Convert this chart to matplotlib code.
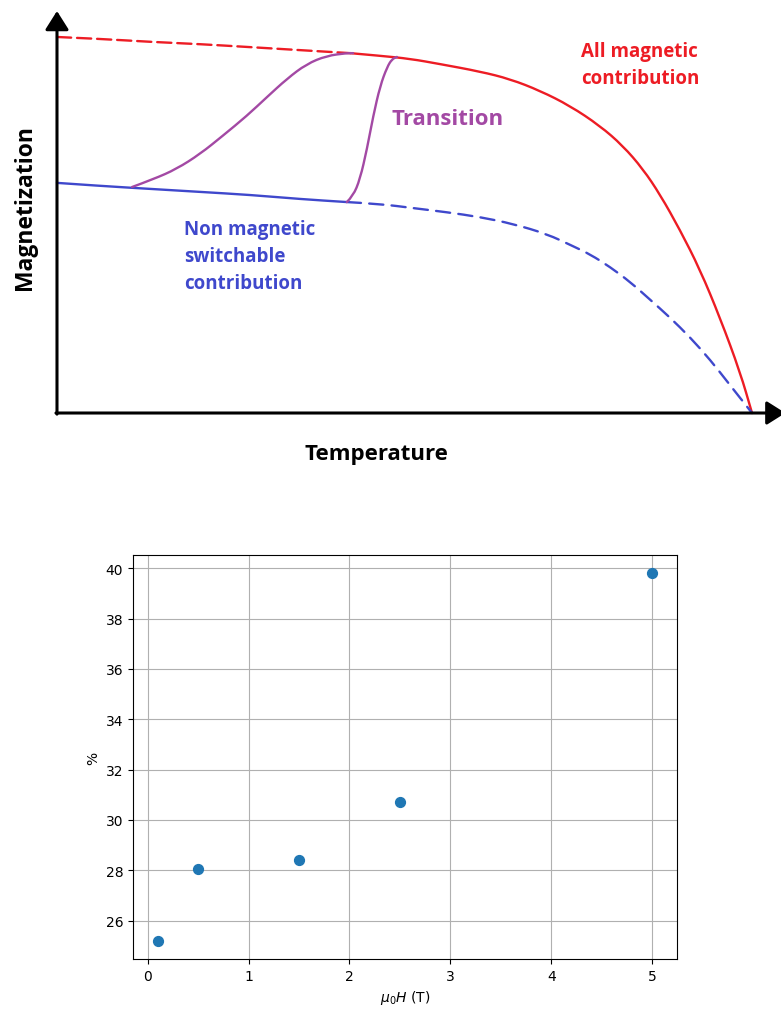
import matplotlib.pyplot as plt
from matplotlib.path import Path
from matplotlib.patches import PathPatch

# schematic curves (temperature and magnetization in arbitrary units 0..100)
red_dash_t = [0, 6.2, 13.4, 20.6, 27.8, 35.0, 42.2]
red_dash_m = [100.0, 99.5, 98.7, 98.1, 97.3, 96.5, 95.7]
red_t = [42.2, 46.5, 50.8, 55.1, 60.9, 65.2, 69.5, 73.8, 78.1, 81.4, 84.3,
         86.8, 89.6, 92.5, 95.4, 98.3, 100]
red_m = [95.7, 95.0, 94.2, 92.8, 90.8, 88.8, 85.7, 81.7, 76.4, 71.1, 64.9,
         58.0, 48.8, 38.2, 25.3, 10.8, 0]

blue_t = [0, 6.2, 13.4, 20.6, 27.8, 35.0, 41.7]
blue_m = [61.2, 60.4, 59.6, 58.8, 58.0, 56.9, 56.1]
blue_dash_t = [41.7, 46.5, 51.2, 56.1, 60.9, 65.6, 70.5, 74.2, 76.7, 79.6,
               82.5, 85.3, 88.2, 91.1, 94.0, 96.8, 100]
blue_dash_m = [56.1, 55.6, 54.5, 53.4, 52.1, 50.3, 47.6, 44.4, 42.2, 38.8,
               34.8, 30.2, 25.4, 20.1, 14.1, 7.5, 0]

trans1_t = [10.8, 13.9, 17.2, 20.6, 23.9, 27.3, 30.2, 33.1, 35.9, 38.8, 41.7,
            42.6]
trans1_m = [60.1, 62.2, 64.9, 68.9, 73.8, 79.0, 84.0, 88.9, 92.8, 95.0, 95.7,
            95.7]
trans2_t = [41.7, 42.6, 43.6, 44.6, 45.5, 46.5, 47.5, 48.2, 48.9]
trans2_m = [56.1, 57.7, 62.2, 70.2, 79.0, 87.0, 92.0, 94.1, 94.7]

# measured fraction vs field
field = [0.1, 0.5, 1.5, 2.5, 5.0]
percent = [25.2, 28.05, 28.4, 30.7, 39.8]

RED = '#ED1C24'
BLUE = '#3F48CC'
PURPLE = '#A349A4'
FONT = 'Open Sans'


def curve(ax, t, m, color, dashes=None, lw=1.7):
    # quadratic bezier chain through the read points, drawn by matplotlib
    verts = [(t[0], m[0])]
    codes = [Path.MOVETO]
    for i in range(1, len(t) - 1):
        verts.append((t[i], m[i]))
        verts.append(((t[i] + t[i + 1]) / 2, (m[i] + m[i + 1]) / 2))
        codes += [Path.CURVE3, Path.CURVE3]
    verts.append((t[-1], m[-1]))
    codes.append(Path.LINETO)
    ls = '-' if dashes is None else (0, dashes)
    p = PathPatch(Path(verts, codes), fill=False, edgecolor=color, lw=lw,
                  linestyle=ls, capstyle='round', joinstyle='round')
    ax.add_patch(p)


fig = plt.figure(figsize=(7.81, 10.12), dpi=100)

# ---- top schematic ----
ax = fig.add_axes([0, 1 - 480 / 1012, 1, 480 / 1012])
ax.set_xlim(-8.2, 104.17)
ax.set_ylim(-17.55, 110.1)
ax.axis('off')

curve(ax, red_dash_t, red_dash_m, RED, dashes=(6, 2.5))
curve(ax, red_t, red_m, RED)
curve(ax, blue_t, blue_m, BLUE)
curve(ax, blue_dash_t, blue_dash_m, BLUE, dashes=(6, 3.5))
curve(ax, trans1_t, trans1_m, PURPLE)
curve(ax, trans2_t, trans2_m, PURPLE)

arr = dict(arrowstyle='-|>,head_length=0.95,head_width=0.6', lw=2.2,
           color='black', shrinkA=0, shrinkB=0, mutation_scale=12)
ax.annotate('', xy=(0, 106.9), xytext=(0, -0.3), arrowprops=arr)
ax.annotate('', xy=(104.8, 0), xytext=(-0.15, 0), arrowprops=arr,
            annotation_clip=False)

ax.text(48.2, 78.2, 'Transition', color=PURPLE, fontsize=16,
        fontweight='bold', family=FONT, ha='left', va='center')
ax.text(75.4, 92.6, 'All magnetic\ncontribution', color=RED, fontsize=13.5,
        fontweight='bold', family=FONT, ha='left', va='center',
        linespacing=1.45)
ax.text(18.3, 41.8, 'Non magnetic\nswitchable\ncontribution', color=BLUE,
        fontsize=13.5, fontweight='bold', family=FONT, ha='left',
        va='center', linespacing=1.45)
ax.text(-4.6, 54.8, 'Magnetization', color='black', fontsize=16.5,
        fontweight='bold', family=FONT, rotation=90, ha='center',
        va='center')
ax.text(45.9, -10.9, 'Temperature', color='black', fontsize=16,
        fontweight='bold', family=FONT, ha='center', va='center')

# ---- bottom scatter ----
ax2 = fig.add_axes([133 / 781, 52 / 1012, 544 / 781, 404 / 1012])
ax2.scatter(field, percent, s=50, color='C0')
ax2.grid(True)
ax2.set_axisbelow(True)
ax2.set_xlabel(r'$\mu_0H$ (T)')
ax2.set_ylabel('%')

fig.savefig('out.png', dpi=100)
